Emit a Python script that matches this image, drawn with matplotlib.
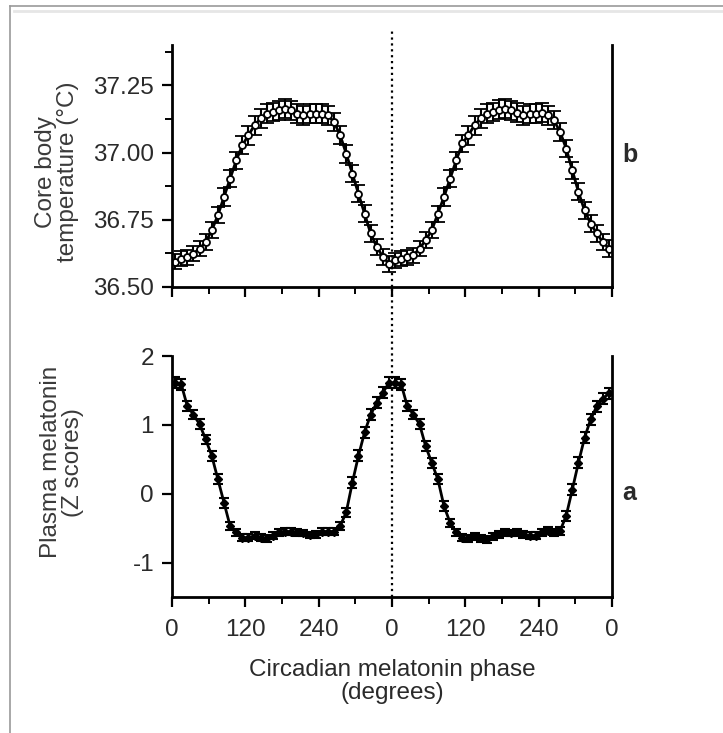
import numpy as np
import matplotlib
matplotlib.use("Agg")
import matplotlib.pyplot as plt
from matplotlib.lines import Line2D
from matplotlib.ticker import MultipleLocator

plt.rcParams['font.family'] = ['Liberation Sans', 'DejaVu Sans']
plt.rcParams['axes.unicode_minus'] = False

# phase bins (degrees), double plotted over two cycles
phase = np.arange(5, 720, 10)
xtick_pos = [0, 120, 240, 360, 480, 600, 720]
xtick_lab = ['0', '120', '240', '0', '120', '240', '0']

# core body temperature (deg C), cycle 1 and cycle 2
temp_c1 = [36.593, 36.605, 36.61, 36.624, 36.643, 36.667, 36.711, 36.767, 36.835,
           36.903, 36.971, 37.027, 37.065, 37.102, 37.127, 37.145, 37.151, 37.158,
           37.164, 37.158, 37.145, 37.139, 37.145, 37.145, 37.145, 37.139, 37.114,
           37.065, 36.996, 36.922, 36.847, 36.773, 36.699, 36.649, 36.612, 36.587]
temp_c2 = [36.599, 36.605, 36.61, 36.618, 36.643, 36.674, 36.711, 36.773, 36.835,
           36.903, 36.971, 37.034, 37.065, 37.102, 37.127, 37.145, 37.151, 37.16,
           37.164, 37.158, 37.148, 37.139, 37.145, 37.145, 37.148, 37.139, 37.12,
           37.077, 37.015, 36.934, 36.854, 36.785, 36.736, 36.699, 36.667, 36.643]
temp_err = [0.028, 0.028, 0.027, 0.027, 0.028, 0.03, 0.03, 0.03, 0.032,
            0.032, 0.033, 0.033, 0.035, 0.035, 0.035, 0.035, 0.035, 0.035,
            0.035, 0.035, 0.035, 0.035, 0.035, 0.035, 0.035, 0.035, 0.034,
            0.033, 0.033, 0.032, 0.032, 0.031, 0.03, 0.03, 0.03, 0.03]

# plasma melatonin (Z scores), cycle 1 and cycle 2
mel_c1 = [1.61, 1.59, 1.27, 1.15, 1.01, 0.79, 0.55, 0.21, -0.13,
          -0.47, -0.56, -0.64, -0.64, -0.61, -0.64, -0.65, -0.61, -0.56,
          -0.55, -0.55, -0.56, -0.57, -0.60, -0.59, -0.55, -0.55, -0.55,
          -0.47, -0.27, 0.16, 0.55, 0.89, 1.15, 1.32, 1.47, 1.61]
mel_c2 = [1.61, 1.59, 1.27, 1.15, 1.01, 0.69, 0.45, 0.21, -0.18,
          -0.42, -0.56, -0.64, -0.65, -0.62, -0.65, -0.66, -0.62, -0.59,
          -0.56, -0.57, -0.56, -0.59, -0.61, -0.61, -0.56, -0.54, -0.56,
          -0.54, -0.32, 0.06, 0.45, 0.81, 1.08, 1.27, 1.38, 1.46]
mel_err = [0.08, 0.08, 0.07, 0.07, 0.07, 0.07, 0.07, 0.07, 0.07,
           0.06, 0.05, 0.05, 0.05, 0.05, 0.05, 0.05, 0.05, 0.05,
           0.05, 0.05, 0.05, 0.05, 0.05, 0.05, 0.05, 0.05, 0.05,
           0.06, 0.07, 0.08, 0.08, 0.08, 0.08, 0.08, 0.08, 0.08]

temp = np.array(temp_c1 + temp_c2)
temp_e = np.array(temp_err + temp_err)
mel = np.array(mel_c1 + mel_c2)
mel_e = np.array(mel_err + mel_err)

fig = plt.figure(figsize=(7.23, 7.33), dpi=100)
ax1 = fig.add_axes([0.238, 0.6085, 0.6085, 0.330])
ax2 = fig.add_axes([0.238, 0.1855, 0.6085, 0.3288])

txt = '#2a2a2a'

for ax in (ax1, ax2):
    ax.spines['top'].set_visible(False)
    for s in ('left', 'right', 'bottom'):
        ax.spines[s].set_linewidth(2)
    ax.set_xlim(0, 720)
    ax.set_xticks(xtick_pos)
    ax.xaxis.set_minor_locator(MultipleLocator(60))
    ax.tick_params(axis='both', which='major', direction='out', length=7, width=1.6,
                   labelsize=17.5, colors='black', labelcolor=txt)
    ax.tick_params(axis='x', which='major', pad=9)
    ax.tick_params(axis='y', which='major', pad=6)
    ax.tick_params(axis='both', which='minor', direction='out', length=5, width=1.4)

ax1.set_xticklabels([])
ax2.set_xticklabels(xtick_lab)

# top panel: temperature
ax1.errorbar(phase, temp, yerr=temp_e, fmt='-o', color='black', lw=2,
             ms=5, mfc='white', mec='black', mew=1.3,
             elinewidth=1.5, capsize=5, capthick=1.5)
ax1.set_ylim(36.5, 37.4)
ax1.set_yticks([36.5, 36.75, 37.0, 37.25])
ax1.set_yticklabels(['36.50', '36.75', '37.00', '37.25'])
ax1.yaxis.set_minor_locator(MultipleLocator(0.125))
ax1.text(-0.262, 0.475, 'Core body\ntemperature (°C)', transform=ax1.transAxes,
         rotation=90, ha='center', va='center', fontsize=17.5, color='#3a3a3a',
         linespacing=1.0)
ax1.text(1.04, 0.545, 'b', transform=ax1.transAxes, fontsize=18,
         fontweight='bold', ha='center', va='center', color=txt)

# bottom panel: melatonin
ax2.errorbar(phase, mel, yerr=mel_e, fmt='-D', color='black', lw=2,
             ms=4.5, mfc='black', mec='black',
             elinewidth=1.5, capsize=3.5, capthick=1.5)
ax2.set_ylim(-1.5, 2)
ax2.set_yticks([-1, 0, 1, 2])
ax2.yaxis.set_minor_locator(MultipleLocator(0.5))
ax2.tick_params(axis='y', which='minor', length=0)
ax2.text(-0.25, 0.56, 'Plasma melatonin\n(Z scores)', transform=ax2.transAxes,
         rotation=90, ha='center', va='center', fontsize=17.5, color='#3a3a3a',
         linespacing=1.0)
ax2.text(1.04, 0.43, 'a', transform=ax2.transAxes, fontsize=18,
         fontweight='bold', ha='center', va='center', color=txt)
ax2.set_xlabel('Circadian melatonin phase\n(degrees)', fontsize=17.5, color=txt,
               labelpad=13, linespacing=1.05)

# dotted line at phase 0 running through both panels
ax1.axvline(360, ymin=0, ymax=1.07, ls=':', color='black', lw=1.6, clip_on=False)
ax2.axvline(360, ymin=0, ymax=1.286, ls=':', color='black', lw=1.6, clip_on=False)

# light grey frame around the picture
fig.add_artist(Line2D([0.0138, 0.0138], [0.0, 0.992], color='#9a9a9a', lw=1.2))
fig.add_artist(Line2D([0.0138, 1.0], [0.992, 0.992], color='#9a9a9a', lw=1.2))
fig.add_artist(Line2D([0.02, 1.0], [0.985, 0.985], color='#e6e6e6', lw=2))

fig.savefig('out.png', dpi=100)
